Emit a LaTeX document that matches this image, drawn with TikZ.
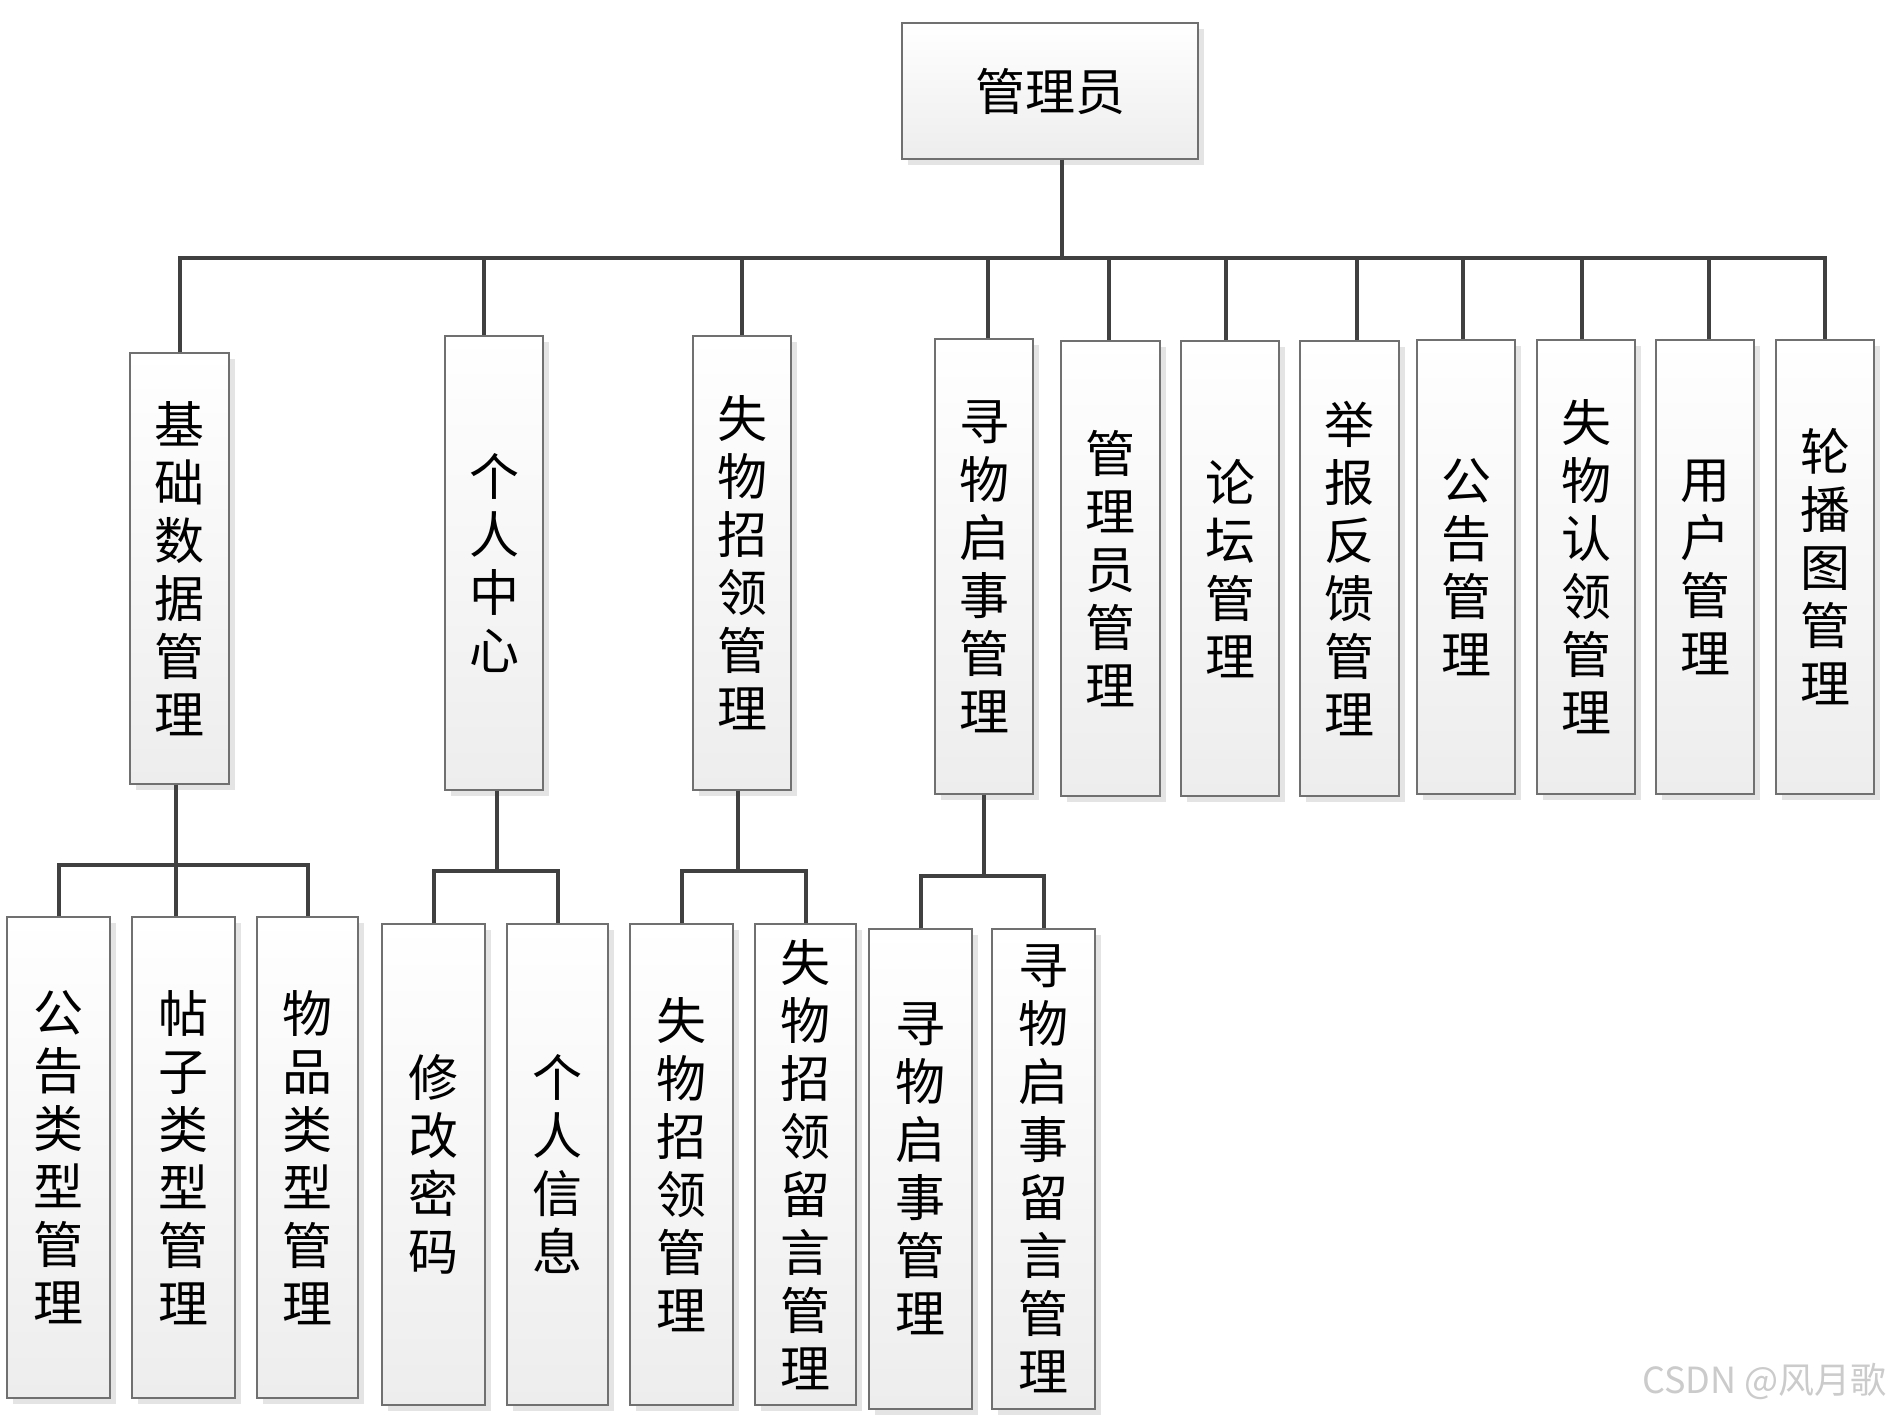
\documentclass[tikz,border=0pt]{standalone}
\usepackage{fontspec}
\newfontfamily\cjk{Noto Sans CJK SC}
\usetikzlibrary{shadows}
\definecolor{boxborder}{HTML}{707070}
\definecolor{boxbottom}{HTML}{EDEDED}
\definecolor{shadowgray}{HTML}{E4E4E4}
\definecolor{linegray}{HTML}{404040}
\definecolor{wmgray}{HTML}{CBCBCB}
\tikzset{
  box/.style={draw=boxborder, line width=1.3pt, top color=white, bottom color=boxbottom,
    drop shadow={shadow xshift=6pt, shadow yshift=-6pt, fill=shadowgray, opacity=1},
    inner sep=0pt, align=center, font=\cjk\fontsize{50}{58}\selectfont},
  link/.style={draw=linegray, line width=4pt, line join=miter},
}
\newcommand\mkbox[7][]{%
  \pgfmathsetmacro\bcx{(#3+#5)/2}\pgfmathsetmacro\bcy{(#4+#6)/2}%
  \pgfmathsetmacro\bw{#5-#3}\pgfmathsetmacro\bh{#6-#4}%
  \node[box,#1,minimum width=\bw pt,minimum height=\bh pt] (#2) at (\bcx,\bcy) {#7};}
\begin{document}
\begin{tikzpicture}[x=1pt,y=-1pt]
\fill[white] (0,0) rectangle (1894,1414);
\useasboundingbox (0,0) rectangle (1894,1414);
% root
\mkbox{root}{902}{23}{1198}{159}{管理员}
% level 1
\mkbox{A}{130}{353}{229}{784}{基\\础\\数\\据\\管\\理}
\mkbox{B}{445}{336}{543}{790}{个\\人\\中\\心}
\mkbox{C}{693}{336}{791}{790}{失\\物\\招\\领\\管\\理}
\mkbox{D}{935}{339}{1033}{794}{寻\\物\\启\\事\\管\\理}
\mkbox{E}{1061}{341}{1160}{796}{管\\理\\员\\管\\理}
\mkbox{F}{1181}{341}{1279}{796}{论\\坛\\管\\理}
\mkbox{G}{1300}{341}{1399}{796}{举\\报\\反\\馈\\管\\理}
\mkbox{H}{1417}{340}{1515}{794}{公\\告\\管\\理}
\mkbox{I}{1537}{340}{1635}{794}{失\\物\\认\\领\\管\\理}
\mkbox{J}{1656}{340}{1754}{794}{用\\户\\管\\理}
\mkbox{K}{1776}{340}{1874}{794}{轮\\播\\图\\管\\理}
% level 2
\mkbox{A1}{7}{917}{110}{1398}{公\\告\\类\\型\\管\\理}
\mkbox{A2}{132}{917}{235}{1398}{帖\\子\\类\\型\\管\\理}
\mkbox{A3}{257}{917}{358}{1398}{物\\品\\类\\型\\管\\理}
\mkbox{B1}{382}{924}{485}{1405}{修\\改\\密\\码}
\mkbox{B2}{507}{924}{608}{1405}{个\\人\\信\\息}
\mkbox{C1}{630}{924}{733}{1405}{失\\物\\招\\领\\管\\理}
\mkbox{C2}{755}{924}{856}{1405}{失\\物\\招\\领\\留\\言\\管\\理}
\mkbox{D1}{869}{929}{972}{1409}{寻\\物\\启\\事\\管\\理}
\mkbox{D2}{992}{929}{1095}{1409}{寻\\物\\启\\事\\留\\言\\管\\理}
% junction coordinates
\coordinate (j0) at (1062,258);
\coordinate (sA) at (0,865);
\coordinate (sB) at (0,871);
\coordinate (sC) at (0,871);
\coordinate (sD) at (0,876);
% main bus
\draw[link] (j0 |- root.south) -- (j0);
\draw[link] (A.north) -- (A.north |- j0) -- (K.north |- j0) -- (K.north);
\foreach \n/\o in {B/-10,C/0,D/4,E/-2,F/-4,G/7,H/-3,I/-4,J/4}{
  \draw[link] ([xshift=\o pt]\n.north |- j0) -- ([xshift=\o pt]\n.north);
}
% subtree A
\draw[link] ([xshift=-3.5pt]A.south) -- ([xshift=-3.5pt]A.south |- A2.north);
\draw[link] (A1.north) -- (A1.north |- sA) -- (A3.north |- sA) -- (A3.north);
% subtree B
\draw[link] ([xshift=3pt]B.south) -- ([xshift=3pt]B.south |- sB);
\draw[link] (B1.north) -- (B1.north |- sB) -- (B2.north |- sB) -- (B2.north);
% subtree C
\draw[link] ([xshift=-4pt]C.south) -- ([xshift=-4pt]C.south |- sC);
\draw[link] (C1.north) -- (C1.north |- sC) -- (C2.north |- sC) -- (C2.north);
% subtree D
\draw[link] (D.south) -- (D.south |- sD);
\draw[link] (D1.north) -- (D1.north |- sD) -- (D2.north |- sD) -- (D2.north);
% watermark
\node[anchor=base east, text=wmgray, font=\cjk\fontsize{36}{40}\selectfont, inner sep=0pt] (wm) at (1887,1393) {CSDN @风月歌};
\end{tikzpicture}
\end{document}
